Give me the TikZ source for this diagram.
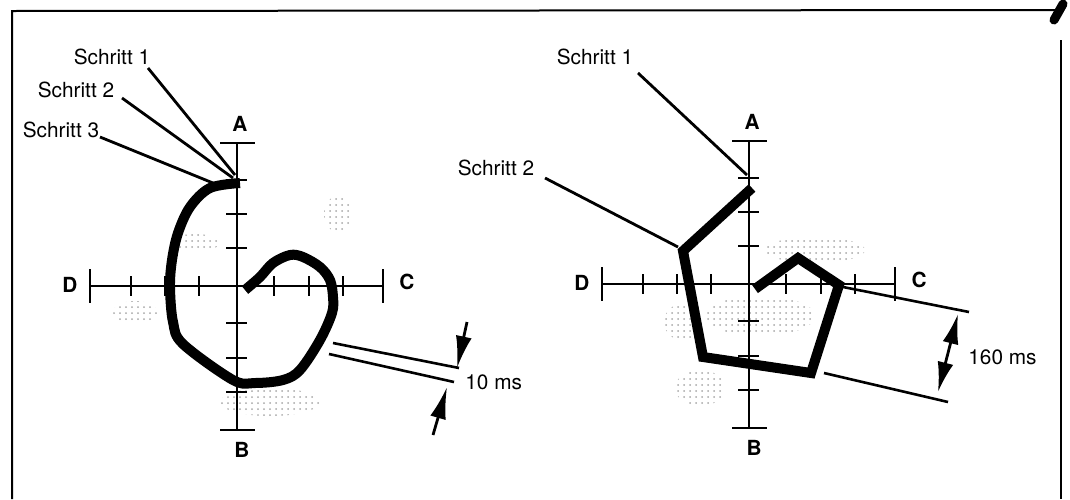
\documentclass[tikz,border=0pt]{standalone}
\usepackage{fontspec}
\setmainfont{TeX Gyre Heros}
\usetikzlibrary{arrows.meta,patterns}
\tikzset{
  rahmen/.style={line width=1pt},
  achse/.style={line width=1.2pt},
  leit/.style={line width=1.4pt},
  spur/.style={line width=5pt, line join=miter},
  mass/.style={line width=1.3pt},
  pfeil/.style={line width=1.4pt, -{Latex[length=16pt,width=8pt]}},
  marke/.style={font=\bfseries\fontsize{10.4}{12}\selectfont, inner sep=0pt},
  schrift/.style={font=\fontsize{10.4}{12}\selectfont, inner sep=0pt},
  fleck/.style={pattern=dots, pattern color=black!35},
}
% Achsenkreuz mit Strichen: #1 Namenspraefix, (#2,#3) Mitte
\newcommand\achsenkreuz[3]{%
  \begin{scope}[shift={(#2,#3)}]
    \draw[achse] (-147,0) -- (146,0);
    \draw[achse] (0,-143) -- (0,144);
    \foreach \e in {-147,146} \draw[achse] (\e,-17) -- (\e,17);
    \foreach \e in {-143,144} \draw[achse] (-17,\e) -- (18,\e);
    \foreach \t in {-106,-72,-38,37,72,106} {
      \draw[achse] (\t,-10) -- (\t,10);
      \draw[achse] (-11,\t) -- (10,\t);
    }
    \node[marke] (#1A) at (3,-162) {A};
    \node[marke] (#1B) at (5,164) {B};
    \node[marke] (#1C) at (170,-4) {C};
    \node[marke] (#1D) at (-167,-1) {D};
  \end{scope}}

\begin{document}
\begin{tikzpicture}[x=0.5pt, y=-0.5pt]
\useasboundingbox (0,0) rectangle (1070,499);

% ---- Rahmen ----
\draw[rahmen] (12,499) -- (12,11) -- (1058,10);
\draw[rahmen] (1061,40) -- (1061,499);
\draw[line width=4.5pt, line cap=round] (1054,20) -- (1063,4);

% ---- graue Flecken ----
\fill[fleck] (195,243) ellipse (24 and 9);
\fill[fleck] (338,214) ellipse (14 and 18);
\fill[fleck] (135,312) ellipse (22 and 11);
\fill[fleck] (270,402) ellipse (50 and 14);
\fill[fleck] (815,250) ellipse (50 and 13);
\fill[fleck] (760,316) ellipse (55 and 20);
\fill[fleck] (682,322) ellipse (18 and 18);
\fill[fleck] (700,388) ellipse (25 and 18);

% ---- links: Kurve ----
\achsenkreuz{l}{237}{286}
\draw[spur, line join=round] plot[smooth, tension=0.55] coordinates {
  (240,183) (210,188) (190,207) (178,233) (172,260) (170,287)
  (173,322) (183,344) (233,380) (255,383) (283,380) (300,370)
  (320,340) (332,313) (333,297) (330,280) (320,267) (303,257)
  (290,255) (273,263) (260,277) (245,290)};

\node[schrift] (ls1) at (112,57) {Schritt 1};
\node[schrift] (ls2) at (76,90) {Schritt 2};
\node[schrift] (ls3) at (61,130) {Schritt 3};
\coordinate (ls1a) at (148,68);  \coordinate (ls1b) at (235,175);
\coordinate (ls2a) at (122,98);  \coordinate (ls2b) at (233,178);
\coordinate (ls3a) at (100,137); \coordinate (ls3b) at (213,183);
\draw[leit] (ls1a) -- (ls1b);
\draw[leit] (ls2a) -- (ls2b);
\draw[leit] (ls3a) -- (ls3b);

% 10 ms
\coordinate (lm1a) at (333,343); \coordinate (lm1b) at (459,368);
\coordinate (lm2a) at (329,354); \coordinate (lm2b) at (454,382);
\draw[mass] (lm1a) -- (lm1b);
\draw[mass] (lm2a) -- (lm2b);
\coordinate (lp1) at (467,322); \coordinate (lp1t) at (457,368);
\coordinate (lp2) at (433,435); \coordinate (lp2t) at (447,387);
\draw[pfeil] (lp1) -- (lp1t);
\draw[pfeil] (lp2) -- (lp2t);
\node[schrift, anchor=west] (lzeit) at (465,382) {10 ms};

% ---- rechts: Fuenfeck ----
\achsenkreuz{r}{749}{284}
\draw[spur] (752,188) -- (683,251) -- (703,357) -- (811,373)
  -- (839,285) -- (798,258) -- (755,289);

\node[schrift] (rs1) at (595,57) {Schritt 1};
\node[schrift] (rs2) at (496,168) {Schritt 2};
\coordinate (rs1a) at (638,73);  \coordinate (rs1b) at (747,175);
\coordinate (rs2a) at (545,178); \coordinate (rs2b) at (678,247);
\draw[leit] (rs1a) -- (rs1b);
\draw[leit] (rs2a) -- (rs2b);

% 160 ms
\coordinate (rm1a) at (843,287); \coordinate (rm1b) at (969,312);
\coordinate (rm2a) at (824,373); \coordinate (rm2b) at (948,402);
\draw[mass] (rm1a) -- (rm1b);
\draw[mass] (rm2a) -- (rm2b);
\coordinate (rp1) at (958,314); \coordinate (rp2) at (938,392);
\draw[line width=1.4pt, {Latex[length=15pt,width=8pt]}-{Latex[length=15pt,width=8pt]}] (rp1) -- (rp2);
\node[schrift, anchor=west] (rzeit) at (968,357) {160 ms};

\end{tikzpicture}
\end{document}
